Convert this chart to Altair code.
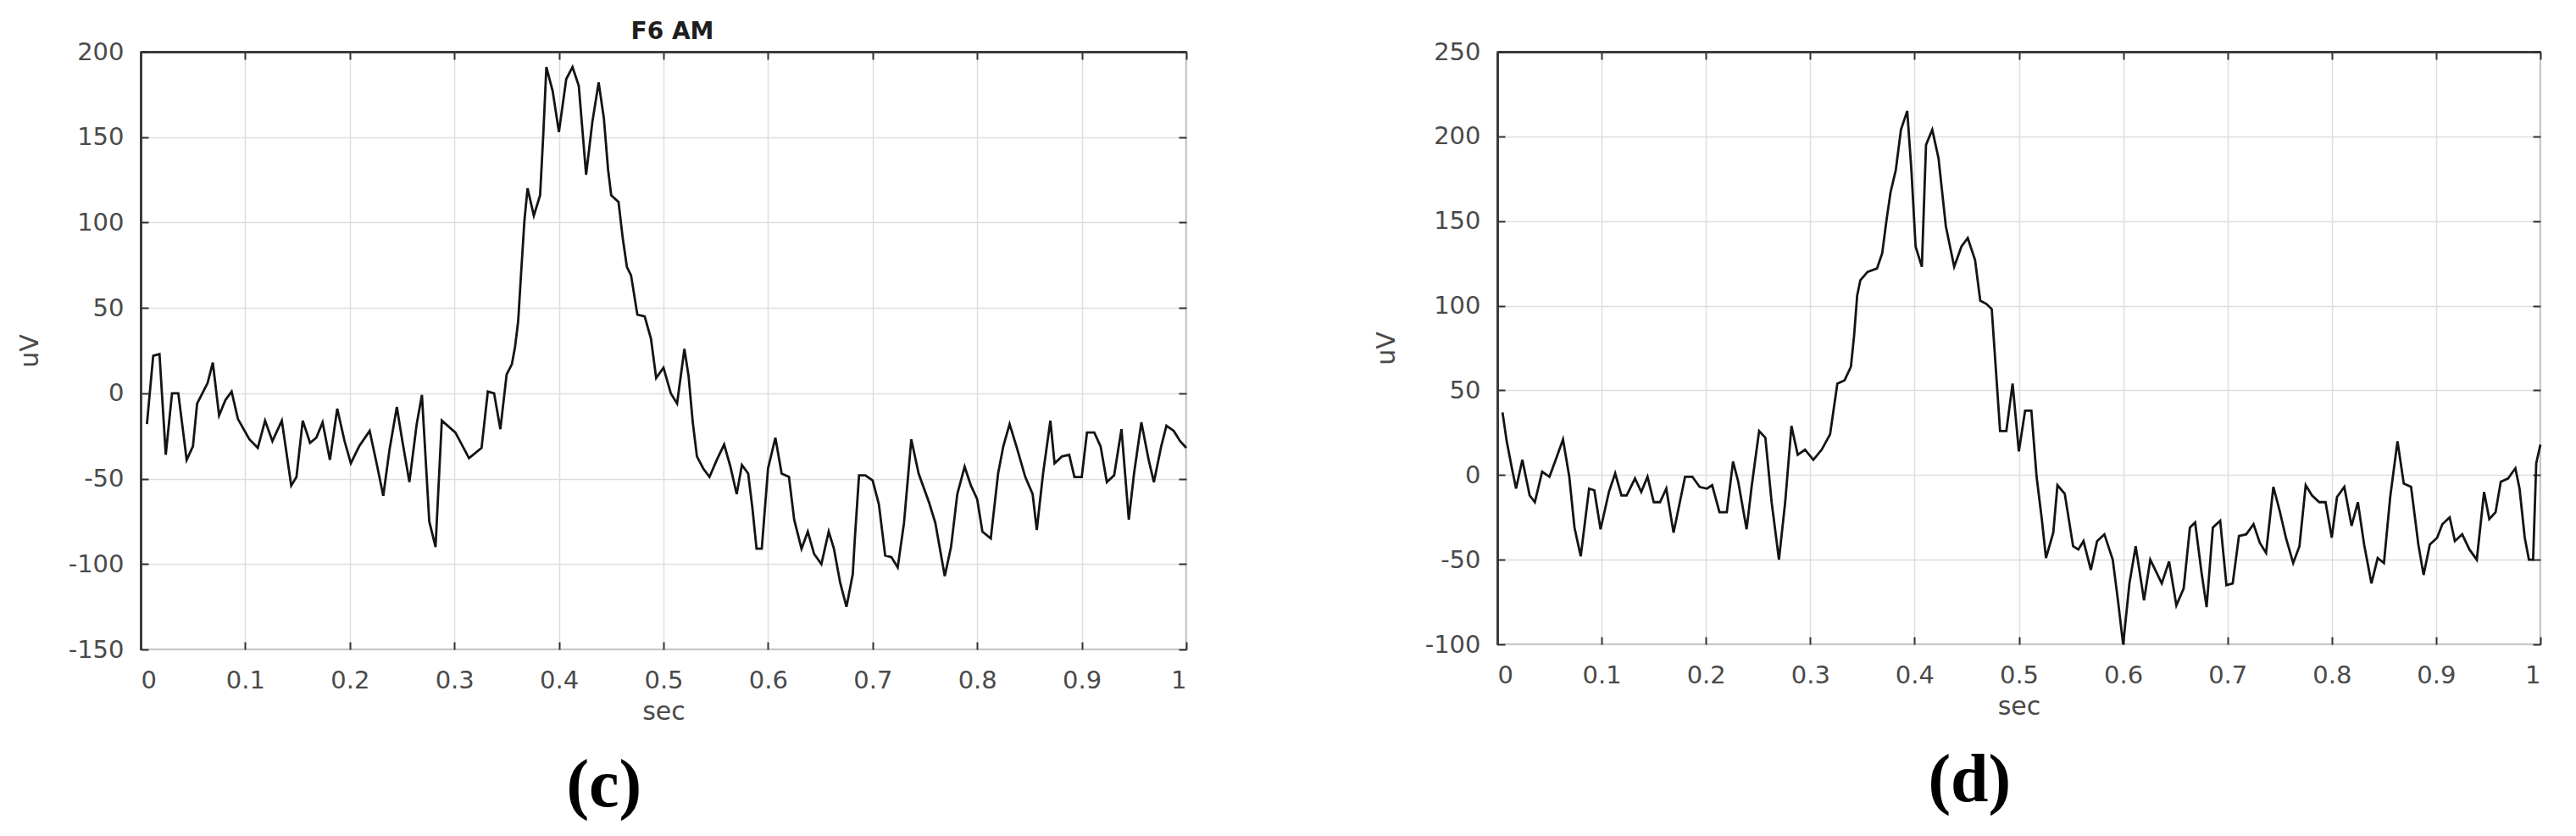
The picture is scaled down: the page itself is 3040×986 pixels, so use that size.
import altair as alt
import pandas as pd

# (c) F6 AM
c_sec = [0.006, 0.012, 0.018, 0.024, 0.030, 0.036, 0.044, 0.050, 0.054, 0.059, 0.064, 0.069,
         0.075, 0.081, 0.087, 0.093, 0.104, 0.112, 0.119, 0.126, 0.135, 0.144, 0.149, 0.155,
         0.162, 0.168, 0.174, 0.181, 0.188, 0.195, 0.201, 0.209, 0.219, 0.226, 0.232, 0.238,
         0.245, 0.250, 0.257, 0.264, 0.269, 0.276, 0.282, 0.288, 0.301, 0.314, 0.326, 0.332,
         0.338, 0.344, 0.350, 0.355, 0.358, 0.361, 0.364, 0.367, 0.370, 0.376, 0.382, 0.385,
         0.388, 0.394, 0.400, 0.407, 0.413, 0.419, 0.426, 0.432, 0.438, 0.443, 0.447, 0.450,
         0.457, 0.461, 0.465, 0.469, 0.475, 0.482, 0.488, 0.493, 0.500, 0.507, 0.513, 0.520,
         0.524, 0.528, 0.532, 0.538, 0.544, 0.551, 0.558, 0.564, 0.570, 0.575, 0.581, 0.585,
         0.589, 0.594, 0.600, 0.607, 0.613, 0.620, 0.625, 0.632, 0.638, 0.644, 0.651, 0.658,
         0.663, 0.669, 0.675, 0.681, 0.683, 0.687, 0.693, 0.700, 0.706, 0.712, 0.718, 0.724,
         0.730, 0.737, 0.744, 0.754, 0.760, 0.769, 0.775, 0.781, 0.788, 0.794, 0.800, 0.805,
         0.813, 0.820, 0.825, 0.831, 0.838, 0.846, 0.853, 0.857, 0.863, 0.870, 0.874, 0.881,
         0.888, 0.893, 0.900, 0.905, 0.912, 0.918, 0.924, 0.931, 0.938, 0.945, 0.950, 0.957,
         0.964, 0.969, 0.976, 0.981, 0.988, 0.994, 1.000]
c_uv = [-18, 22, 23, -36, 0, 0, -39, -31, -6, 0, 6, 18,
        -13, -4, 1, -15, -27, -32, -16, -28, -16, -54, -49, -16,
        -29, -26, -17, -39, -9, -28, -41, -31, -22, -42, -60, -33,
        -8, -27, -52, -18, -1, -75, -90, -16, -23, -38, -32, 1,
        0, -21, 11, 17, 27, 42, 72, 101, 120, 104, 116, 151,
        191, 177, 153, 184, 191, 180, 128, 159, 182, 161, 131, 116,
        112, 91, 74, 69, 46, 45, 32, 9, 15, 0, -6, 26,
        10, -17, -37, -44, -49, -39, -30, -43, -59, -42, -47, -67,
        -91, -91, -44, -26, -47, -49, -74, -91, -81, -94, -100, -81,
        -91, -111, -125, -106, -85, -48, -48, -51, -65, -95, -96, -102,
        -76, -27, -47, -64, -76, -107, -90, -59, -43, -54, -62, -81,
        -85, -47, -31, -18, -32, -49, -59, -80, -47, -16, -41, -37,
        -36, -49, -49, -23, -23, -31, -52, -48, -21, -74, -47, -17,
        -39, -52, -31, -19, -22, -28, -32]

# (d)
d_sec = [0.005, 0.009, 0.014, 0.018, 0.024, 0.031, 0.036, 0.043, 0.050, 0.056, 0.063, 0.069,
         0.074, 0.080, 0.088, 0.093, 0.099, 0.107, 0.113, 0.119, 0.124, 0.132, 0.138, 0.144,
         0.150, 0.156, 0.162, 0.169, 0.175, 0.180, 0.187, 0.194, 0.201, 0.206, 0.213, 0.220,
         0.226, 0.231, 0.239, 0.244, 0.251, 0.257, 0.263, 0.270, 0.276, 0.282, 0.288, 0.295,
         0.303, 0.311, 0.319, 0.326, 0.333, 0.339, 0.342, 0.345, 0.348, 0.355, 0.364, 0.369,
         0.373, 0.377, 0.382, 0.387, 0.393, 0.397, 0.401, 0.407, 0.411, 0.417, 0.423, 0.430,
         0.438, 0.445, 0.451, 0.458, 0.463, 0.469, 0.474, 0.478, 0.482, 0.488, 0.494, 0.500,
         0.506, 0.512, 0.517, 0.522, 0.526, 0.533, 0.537, 0.544, 0.552, 0.557, 0.562, 0.569,
         0.575, 0.582, 0.590, 0.595, 0.600, 0.606, 0.612, 0.620, 0.626, 0.637, 0.644, 0.651,
         0.658, 0.664, 0.669, 0.675, 0.680, 0.686, 0.693, 0.699, 0.705, 0.711, 0.718, 0.725,
         0.731, 0.737, 0.744, 0.750, 0.756, 0.763, 0.769, 0.775, 0.781, 0.788, 0.794, 0.800,
         0.805, 0.812, 0.819, 0.825, 0.831, 0.838, 0.844, 0.850, 0.856, 0.863, 0.869, 0.876,
         0.883, 0.888, 0.894, 0.901, 0.906, 0.913, 0.918, 0.925, 0.932, 0.939, 0.946, 0.951,
         0.957, 0.962, 0.969, 0.976, 0.980, 0.985, 0.989, 0.993, 0.996, 1.000]
d_uv = [37, 20, 4, -8, 9, -12, -16, 2, -1, 9, 21, -1,
        -31, -48, -8, -9, -32, -10, 1, -12, -12, -2, -10, -1,
        -16, -16, -8, -34, -16, -1, -1, -7, -8, -6, -22, -22,
        8, -4, -32, -6, 26, 22, -16, -50, -16, 29, 12, 15,
        9, 15, 24, 54, 56, 64, 82, 106, 115, 120, 122, 131,
        150, 167, 180, 204, 215, 180, 135, 123, 195, 204, 187, 147,
        123, 135, 140, 127, 103, 101, 98, 62, 26, 26, 54, 14,
        38, 38, -1, -26, -49, -34, -6, -11, -42, -44, -39, -56,
        -39, -35, -50, -74, -100, -64, -42, -74, -50, -64, -51, -77,
        -67, -31, -28, -57, -78, -31, -27, -65, -64, -36, -35, -29,
        -40, -46, -7, -21, -37, -52, -42, -6, -12, -16, -16, -37,
        -13, -7, -30, -16, -41, -64, -49, -52, -13, 20, -5, -7,
        -41, -59, -41, -37, -29, -25, -39, -35, -44, -50, -10, -26,
        -22, -4, -2, 4, -8, -37, -50, -50, 7, 18]

x_ticks = [0, 0.1, 0.2, 0.3, 0.4, 0.5, 0.6, 0.7, 0.8, 0.9, 1]
c_y_ticks = [-150, -100, -50, 0, 50, 100, 150, 200]
d_y_ticks = [-100, -50, 0, 50, 100, 150, 200, 250]

INK = '#4a4a4a'
EDGE = '#3c3c3c'
FONT = 'DejaVu Sans'
TICK = dict(labels=False, grid=False, tickSize=9, tickColor='#333333', tickWidth=2)


def panel(sec, uv, y_ticks, w, h, tag, tag_dx, title=None):
    df = pd.DataFrame({'sec': sec, 'uv': uv})
    xs = alt.Scale(domain=[0, 1], nice=False, zero=False)
    ys = alt.Scale(domain=[y_ticks[0], y_ticks[-1]], nice=False, zero=False)
    base = alt.Chart(df)

    line = base.mark_line(color='#141414', strokeWidth=2.8).encode(
        x=alt.X('sec:Q', scale=xs, axis=alt.Axis(
            values=x_ticks, labelExpr="'' + datum.value", ticks=False, domain=False,
            labelPadding=22, title='sec', titleY=73, titleBaseline='middle')),
        y=alt.Y('uv:Q', scale=ys, axis=alt.Axis(
            values=y_ticks, labelExpr="'' + datum.value", ticks=False,
            domainColor=EDGE, domainWidth=3,
            labelPadding=20, title='uV', titleX=-131, titleY=h / 2,
            titleAngle=270, titleBaseline='middle')),
    )

    # invisible copies that only carry inward tick marks (MATLAB style)
    low = base.mark_line(strokeOpacity=0).encode(
        x=alt.X('sec:Q', scale=xs, axis=alt.Axis(
            orient='top', offset=-h, values=x_ticks, title=None, domain=False, **TICK)),
        y=alt.Y('uv:Q', scale=ys, axis=alt.Axis(
            orient='right', offset=-w, values=y_ticks, title=None, domain=False, **TICK)),
    )
    if title:
        top_axis = alt.Axis(orient='bottom', offset=-h, values=x_ticks, title=title,
                            titleY=-24, titleBaseline='middle', titleFontWeight='bold',
                            titleFontSize=28, titleColor='#1e1e1e', titleX=w / 2 + 10,
                            domainColor=EDGE, domainWidth=3, **TICK)
    else:
        top_axis = alt.Axis(orient='bottom', offset=-h, values=x_ticks, title=None,
                            domainColor=EDGE, domainWidth=3, **TICK)
    high = base.mark_line(strokeOpacity=0).encode(
        x=alt.X('sec:Q', scale=xs, axis=top_axis),
        y=alt.Y('uv:Q', scale=ys, axis=alt.Axis(
            orient='left', offset=-w, values=y_ticks, title=None, domain=False, **TICK)),
    )

    return alt.layer(line, low, high).resolve_axis(
        x='independent', y='independent'
    ).properties(
        width=w, height=h,
        title=alt.Title(tag, orient='bottom', font='Liberation Serif', fontSize=80,
                        fontWeight='bold', color='black', baseline='alphabetic',
                        frame='bounds', anchor='middle', offset=97, dx=tag_dx),
    )


panel_c = panel(c_sec, c_uv, c_y_ticks, 1234, 705, '(c)', 0, title='F6 AM')
panel_d = panel(d_sec, d_uv, d_y_ticks, 1231, 699, '(d)', 12)

chart = alt.hconcat(panel_c, panel_d, spacing=367).properties(
    bounds='flush',
    padding={'left': 11, 'top': 14, 'right': 5, 'bottom': 5},
).configure_view(
    stroke='#9a9a9a', strokeWidth=2
).configure_axis(
    labelFont=FONT, labelFontSize=29, labelColor=INK,
    titleFont=FONT, titleFontSize=30, titleColor=INK, titleFontWeight='normal',
    gridColor='#dedede', gridWidth=1.5,
)

chart.save('out.html', embed_options={'renderer': 'svg', 'actions': False})
